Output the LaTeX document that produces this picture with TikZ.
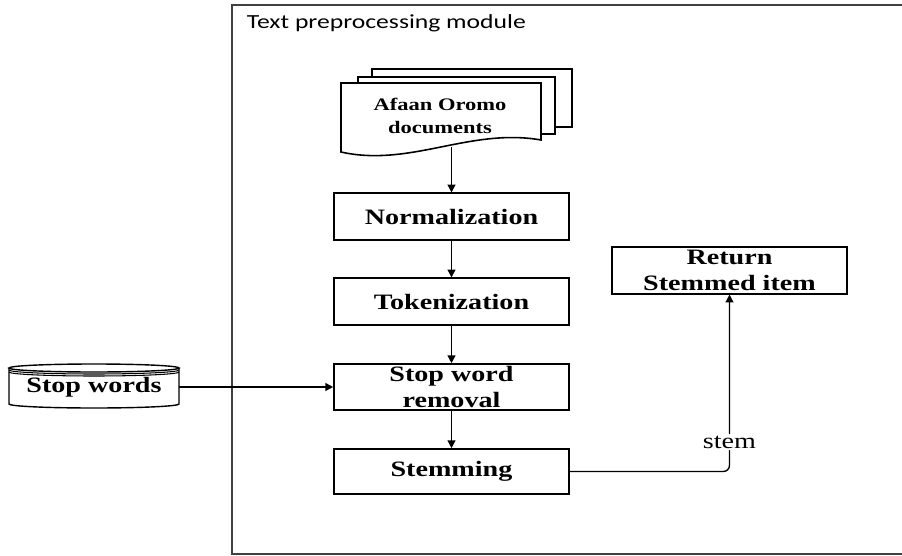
\documentclass[tikz,border=0pt]{standalone}
\usepackage{fontspec}
\setmainfont{Liberation Serif}[FakeStretch=1.28]
\newfontfamily\modfont{Carlito}[FakeStretch=1.28]
\usetikzlibrary{arrows.meta}
\tikzset{
  proc/.style={draw, line width=0.9pt, minimum width=4.7cm, minimum height=0.93cm, inner sep=0pt, align=center, font=\fontsize{12.5}{14.5}\selectfont\bfseries},
  flow/.style={draw, line width=0.8pt, -{Triangle[length=4.5pt,width=4.5pt]}},
  page/.style={draw, line width=0.9pt, fill=white}
}
\begin{document}
\begin{tikzpicture}
\useasboundingbox (0,0) rectangle (18.04,11.1);
\draw [line width=0.8pt, draw=black!75] (18.04,11.0)--(4.64,11.0)--(4.64,0.02)--(18.04,0.02);
\node [anchor=west, inner sep=0pt, font=\modfont\fontsize{11.4}{13}\selectfont] (title) at (4.93,10.64) {Text preprocessing module};
\draw [page] (7.44,9.72) rectangle (11.44,8.56);
\draw [page] (7.16,9.56) rectangle (11.1,8.42);
\draw [page] (6.82,9.44)--(10.82,9.44)--(10.82,8.30) .. controls (9.4,8.55) and (8.2,7.75) .. (6.82,8.06)--cycle;
\node [align=center, font=\fontsize{10}{13}\selectfont\bfseries] (docs) at (8.8,8.78) {Afaan Oromo\\documents};
\coordinate (docbot) at (9.03,8.16);
\node [proc] (norm) at (9.03,6.77) {Normalization};
\node [proc] (tok) at (9.03,5.07) {Tokenization};
\node [proc, minimum height=0.92cm] (swr) at (9.03,3.36) {Stop word\\removal};
\node [proc, minimum height=0.9cm] (stem) at (9.03,1.67) {Stemming};
\node [proc] (ret) at (14.59,5.69) {Return\\Stemmed item};
\draw [line width=0.8pt] (0.18,3.74)--(0.18,3.02) arc [start angle=180, end angle=360, x radius=1.7, y radius=0.08]--(3.58,3.74);
\draw [line width=0.8pt] (1.88,3.74) ellipse [x radius=1.7, y radius=0.08];
\foreach \d in {0.04,0.08}
  \draw [line width=0.6pt] (0.18,3.74-\d) arc [start angle=180, end angle=360, x radius=1.7, y radius=0.08];
\node [minimum width=3.4cm, minimum height=0.7cm, inner sep=0pt, font=\fontsize{12.5}{14.5}\selectfont\bfseries] (stopw) at (1.88,3.36) {Stop words};
\draw [flow] (docbot)--(norm);
\draw [flow] (norm)--(tok);
\draw [flow] (tok)--(swr);
\draw [flow] (swr)--(stem);
\draw [flow] (stopw.east)--(swr.west);
\draw [flow, rounded corners=3.5pt] (stem.east) -| node [pos=0.583, fill=white, inner sep=1pt, font=\fontsize{12.5}{14.5}\selectfont] {stem} (ret.south);
\end{tikzpicture}
\end{document}
